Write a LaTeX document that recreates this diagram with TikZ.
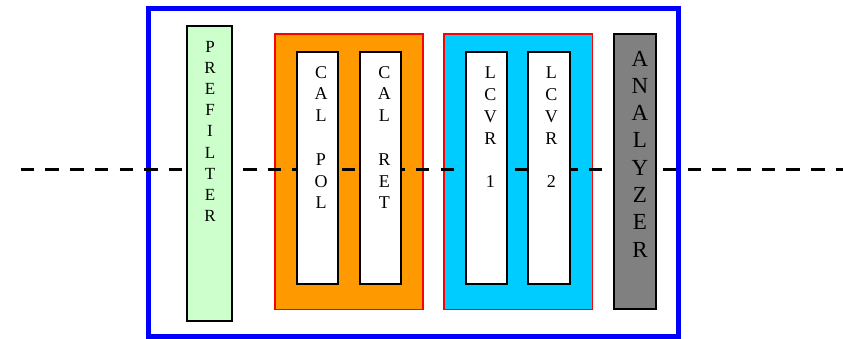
\documentclass[tikz,border=0pt]{standalone}
\usepackage{fontspec}
\setmainfont{Liberation Serif}
\definecolor{pfgreen}{HTML}{CCFFCC}
\definecolor{calorange}{HTML}{FF9900}
\definecolor{lccyan}{HTML}{00CCFF}
\definecolor{angray}{HTML}{808080}
\tikzset{
  outerbox/.style={draw=blue, line width=5pt, rectangle, inner sep=0pt},
  groupbox/.style={draw=red, line width=1.5pt, rectangle, inner sep=0pt},
  elembox/.style={draw=black, line width=2pt, rectangle, inner sep=0pt},
  beam/.style={draw=black, line width=3pt, dash pattern=on 13.5pt off 11.2pt},
  stacktxt/.style={anchor=north, inner sep=0pt, align=center, font=\fontsize{17}{21.2}\selectfont},
  midtxt/.style={anchor=north, inner sep=0pt, align=center, font=\fontsize{18}{21.8}\selectfont},
  bigtxt/.style={anchor=north, inner sep=0pt, align=center, font=\fontsize{23}{27.3}\selectfont}
}
\begin{document}
\begin{tikzpicture}[x=1pt,y=-1pt]
\useasboundingbox (0,0) rectangle (843,339);
% frame
\node[outerbox, minimum width=529.7pt, minimum height=328pt] (frame) at (413.2,172.5) {};
% groups
\node[groupbox, fill=calorange, minimum width=148.3pt, minimum height=275.3pt] (calgrp) at (348.9,171.7) {};
\node[groupbox, fill=lccyan, minimum width=148.6pt, minimum height=275.3pt] (lcgrp) at (518.3,171.7) {};
% beam
\coordinate (lstart) at (20.7,170);
\coordinate (lend) at (843,170);
\draw[beam] (lstart) -- (lend);
% elements
\node[elembox, fill=pfgreen, minimum width=44.7pt, minimum height=295pt] (pref) at (209.3,173.5) {};
\node[elembox, fill=white, minimum width=41.3pt, minimum height=232pt] (calpol) at (317.3,168) {};
\node[elembox, fill=white, minimum width=41.3pt, minimum height=232pt] (calret) at (380.7,168) {};
\node[elembox, fill=white, minimum width=41.3pt, minimum height=232pt] (lcvr1) at (486.7,168) {};
\node[elembox, fill=white, minimum width=41.3pt, minimum height=232pt] (lcvr2) at (549,168) {};
\node[elembox, fill=angray, minimum width=41.4pt, minimum height=275pt] (anal) at (635,171.5) {};
% labels
\node[stacktxt] (preftxt) at (210,40.7) {P\\R\\E\\F\\I\\L\\T\\E\\R};
\node[midtxt] (calpoltxt) at (321,66) {C\\A\\L\\~\\P\\O\\L};
\node[midtxt] (calrettxt) at (384.3,66) {C\\A\\L\\~\\R\\E\\T};
\node[midtxt] (lcvr1txt) at (490.3,66.7) {L\\C\\V\\R\\~\\1};
\node[midtxt] (lcvr2txt) at (551.3,66.7) {L\\C\\V\\R\\~\\2};
\node[bigtxt] (analtxt) at (640,50.7) {A\\N\\A\\L\\Y\\Z\\E\\R};
\end{tikzpicture}
\end{document}
